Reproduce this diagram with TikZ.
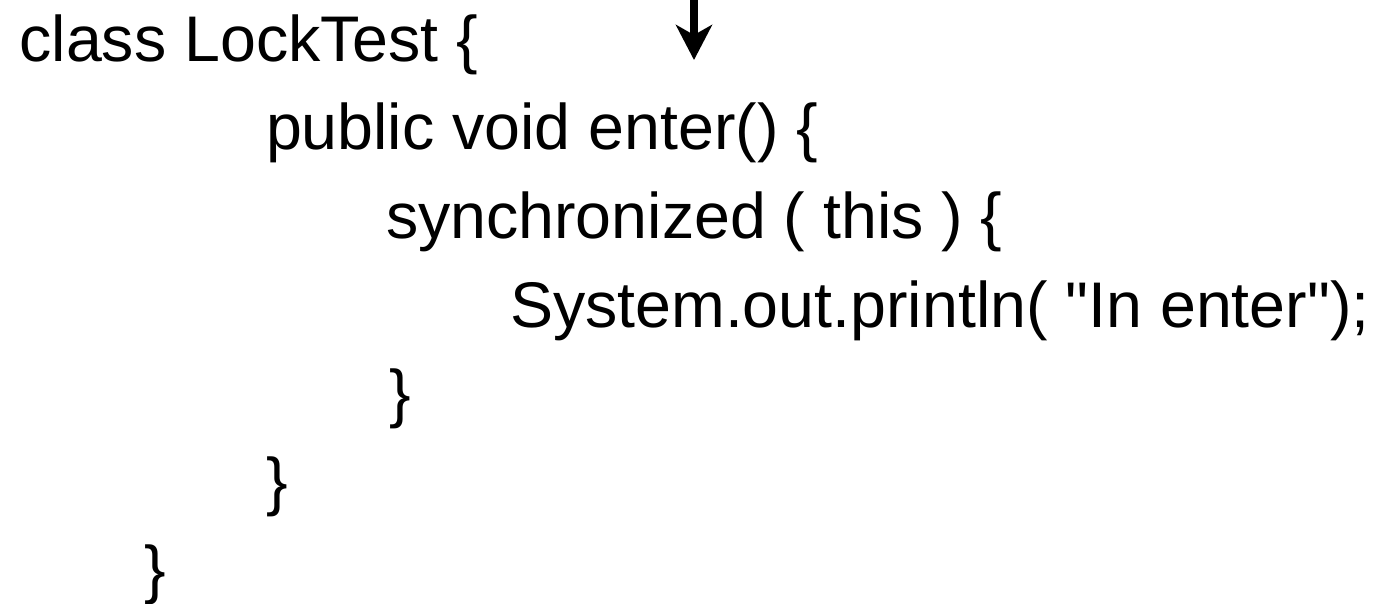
\documentclass[tikz,border=0pt]{standalone}
\usepackage{fontspec}
\setmainfont{Liberation Sans}
\usetikzlibrary{arrows.meta}
\begin{document}
\begin{tikzpicture}[x=1pt,y=-1pt,
  code/.style={anchor=base west, inner sep=0pt, outer sep=0pt,
               font=\fontsize{64.5}{70}\selectfont},
  pointer/.style={line width=7.5pt,
               -{Stealth[length=35pt,width=36pt,inset=10pt]}}]
\useasboundingbox (0,0) rectangle (1373,604);

% source listing, one node per line
\node[code] (l1) at (19.5,62)  {class LockTest \{};
\node[code] (l2) at (266,150)  {public void enter() \{};
\node[code] (l3) at (386,238)  {synchronized ( this ) \{};
\node[code] (l4) at (510,327)  {System.out.println( \textquotedbl In enter\textquotedbl);};
\node[code] (l5) at (389,415)  {\}};
\node[code] (l6) at (266,503)  {\}};
\node[code] (l7) at (144,591)  {\}};

% pointer coming in from the top edge
\coordinate (ptop) at (694,0);
\coordinate (ptip) at (694,60);
\draw[pointer] (ptop) -- (ptip);
\end{tikzpicture}
\end{document}
